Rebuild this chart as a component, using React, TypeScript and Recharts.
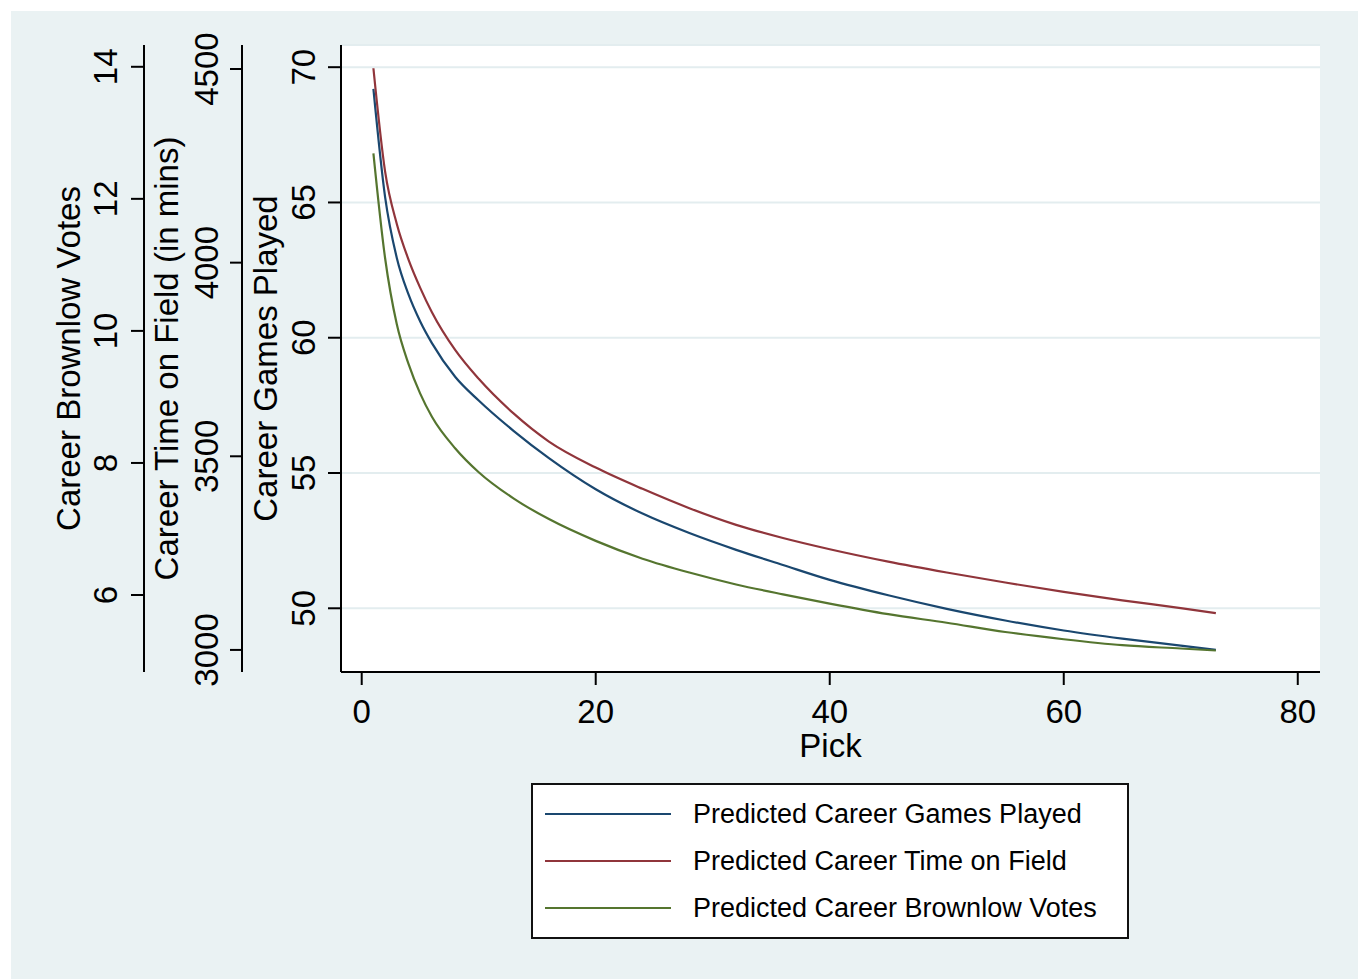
import React from 'react';
import { LineChart, Line, XAxis, YAxis, CartesianGrid } from 'recharts';

// draft pick (x) and the three predicted career outcomes
const picks = [1, 2, 3, 4, 5, 6, 8, 10, 13, 16, 20, 24, 28, 32, 36, 40, 45, 50, 55, 60, 65, 70, 73];
const gamesPlayed = [69.2, 65.2, 62.95, 61.6, 60.6, 59.8, 58.55, 57.68, 56.55, 55.55, 54.4, 53.5, 52.78, 52.16, 51.6, 51.05, 50.48, 49.98, 49.55, 49.18, 48.88, 48.62, 48.46];
const timeOnField = [4502, 4235, 4100, 4008, 3935, 3872, 3774, 3700, 3610, 3538, 3471, 3416, 3366, 3323, 3289, 3260, 3228, 3200, 3174, 3150, 3128, 3108, 3095];
const brownlowVotes = [12.69, 11.1, 10.1, 9.5, 9.05, 8.7, 8.22, 7.86, 7.46, 7.15, 6.82, 6.55, 6.34, 6.16, 6.01, 5.87, 5.71, 5.58, 5.44, 5.33, 5.24, 5.19, 5.16];

const xTicks = [0, 20, 40, 60, 80];
const gamesTicks = [50, 55, 60, 65, 70];
const timeTicks = [3000, 3500, 4000, 4500];
const brownlowTicks = [6, 8, 10, 12, 14];

// axis ids sort in the order the axes stack outward from the plot
const series = [
  { key: 'games', axis: 'a1', name: 'Predicted Career Games Played', color: '#1A476F' },
  { key: 'time', axis: 'a2', name: 'Predicted Career Time on Field', color: '#90353B' },
  { key: 'brownlow', axis: 'a3', name: 'Predicted Career Brownlow Votes', color: '#55752F' },
];

const data = picks.map((p, i) => ({
  pick: p,
  games: gamesPlayed[i],
  time: timeOnField[i],
  brownlow: brownlowVotes[i],
}));

const FONT = '"Liberation Sans", Arial, sans-serif';
const BG = '#EAF2F3';

const RotTick = (props: any) => {
  const { x, y, payload } = props;
  return (
    <text
      x={x}
      y={y}
      transform={`rotate(-90 ${x} ${y})`}
      textAnchor="middle"
      fontSize={33}
      fontFamily={FONT}
      fill="#000"
    >
      {payload.value}
    </text>
  );
};

const yTitle = (text: string) => (props: any) => {
  const vb = props.viewBox || {};
  const x = vb.x + vb.width - 64;
  const y = vb.y + vb.height / 2;
  return (
    <text
      x={x}
      y={y}
      transform={`rotate(-90 ${x} ${y})`}
      textAnchor="middle"
      fontSize={33}
      fontFamily={FONT}
      fill="#000"
    >
      {text}
    </text>
  );
};

const xTitle = (props: any) => {
  const vb = props.viewBox || {};
  return (
    <text x={vb.x + vb.width / 2} y={vb.y + 85} textAnchor="middle" fontSize={33} fontFamily={FONT} fill="#000">
      Pick
    </text>
  );
};

const axisLine = { stroke: '#000', strokeWidth: 2 };

export default function App() {
  return (
    <div style={{ position: 'absolute', left: 0, top: 0, width: 1358, height: 979, background: '#fff' }}>
      <div style={{ position: 'absolute', left: 11, top: 11, width: 1347, height: 968, background: BG }}>
        <LineChart width={1347} height={968} data={data} margin={{ top: 34, right: 38, bottom: 207, left: 10 }}>
          <CartesianGrid
            yAxisId="a1"
            vertical={false}
            fill="#ffffff"
            fillOpacity={1}
            stroke="#E3EDEF"
            strokeWidth={2}
          />
          <XAxis
            dataKey="pick"
            type="number"
            domain={[-1.77, 81.9]}
            ticks={xTicks}
            allowDataOverflow
            height={100}
            tickSize={13}
            tickMargin={15}
            axisLine={axisLine}
            tickLine={axisLine}
            tick={{ fontSize: 33, fontFamily: FONT, fill: '#000' }}
            label={xTitle}
          />
          <YAxis
            yAxisId="a1"
            orientation="left"
            width={99}
            domain={[47.645, 70.82]}
            ticks={gamesTicks}
            allowDataOverflow
            tickSize={13}
            tickMargin={13}
            axisLine={axisLine}
            tickLine={axisLine}
            tick={<RotTick />}
            label={yTitle('Career Games Played')}
          />
          <YAxis
            yAxisId="a2"
            orientation="left"
            width={98}
            domain={[2943, 4562]}
            ticks={timeTicks}
            allowDataOverflow
            tickSize={12}
            tickMargin={12}
            axisLine={axisLine}
            tickLine={axisLine}
            tick={<RotTick />}
            label={yTitle('Career Time on Field (in mins)')}
          />
          <YAxis
            yAxisId="a3"
            orientation="left"
            width={123}
            domain={[4.834, 14.33]}
            ticks={brownlowTicks}
            allowDataOverflow
            tickSize={13}
            tickMargin={14}
            axisLine={axisLine}
            tickLine={axisLine}
            tick={<RotTick />}
            label={yTitle('Career Brownlow Votes')}
          />
          {series.map((s) => (
            <Line
              key={s.key}
              yAxisId={s.axis}
              dataKey={s.key}
              name={s.name}
              type="monotone"
              stroke={s.color}
              strokeWidth={2.2}
              dot={false}
              isAnimationActive={false}
            />
          ))}
        </LineChart>
      </div>
      <div
        style={{
          position: 'absolute',
          left: 531,
          top: 783,
          width: 598,
          height: 156,
          boxSizing: 'border-box',
          border: '2px solid #111',
          background: '#fff',
          fontFamily: FONT,
          fontSize: 27,
          color: '#000',
        }}
      >
        {series.map((s, i) => (
          <div
            key={s.key}
            style={{ position: 'absolute', left: 0, top: 29 + i * 47 - 20, height: 40, display: 'flex', alignItems: 'center' }}
          >
            <div style={{ marginLeft: 12, width: 126, height: 2.5, background: s.color }} />
            <span style={{ marginLeft: 22, whiteSpace: 'nowrap' }}>{s.name}</span>
          </div>
        ))}
      </div>
    </div>
  );
}
